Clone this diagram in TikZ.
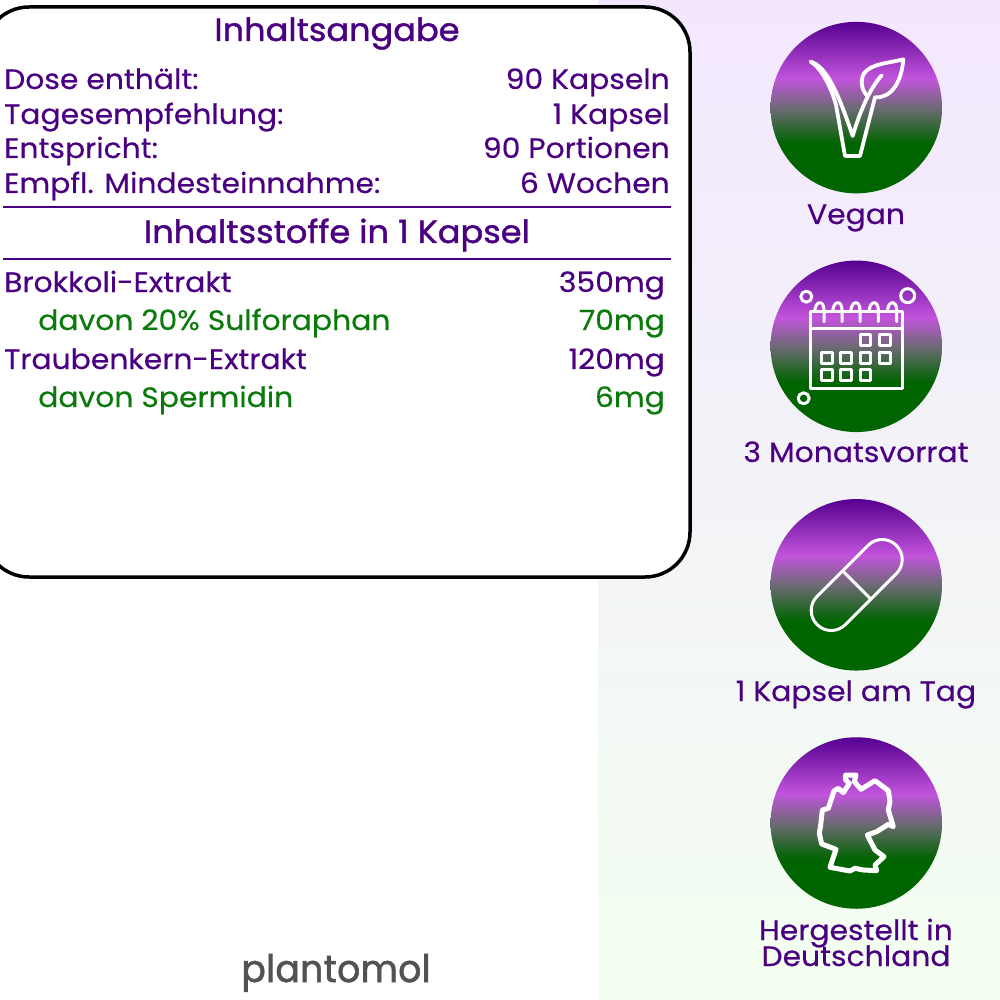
\documentclass[tikz,border=0pt]{standalone}
\usepackage{fontspec}
\setmainfont{Poppins}[FakeStretch=1.065,FakeBold=0.35]
\newfontfamily\headfont{Poppins}[FakeStretch=1.05,FakeBold=1.3]
\newfontfamily\logofont{Poppins}[LetterSpace=1,FakeStretch=0.95,FakeBold=1.6]
\usepackage{tikz}
\usetikzlibrary{positioning,calc}
\definecolor{indigotext}{HTML}{4B0082}
\definecolor{greentext}{HTML}{0A7A0A}
\definecolor{badgedark}{HTML}{560090}
\definecolor{badgemid}{HTML}{C254DC}
\definecolor{badgegreen}{HTML}{006400}
\definecolor{bgtop}{HTML}{F3E7FE}
\definecolor{bgbottom}{HTML}{F3FFF0}
\pgfdeclareverticalshading{badgefill}{100bp}{
  color(0bp)=(badgegreen); color(25bp)=(badgegreen); color(39.5bp)=(badgegreen);
  color(50bp)=(badgegreen!50!badgemid!60!gray); color(58.5bp)=(badgemid);
  color(75bp)=(badgedark); color(100bp)=(badgedark)}
\tikzset{
  rowtext/.style={inner sep=0pt,font=\fontsize{28}{30}\selectfont},
  rowleft/.style={rowtext,anchor=base west,indigotext},
  rowright/.style={rowtext,anchor=base east,indigotext},
  subleft/.style={rowtext,anchor=base west,greentext},
  subright/.style={rowtext,anchor=base east,greentext},
  headtext/.style={inner sep=0pt,anchor=base,indigotext,font=\fontsize{32}{34}\selectfont\headfont},
  captext/.style={inner sep=0pt,anchor=base,indigotext,font=\fontsize{28}{30}\selectfont},
  badge/.style={circle,minimum size=171.5pt,inner sep=0pt,shading=badgefill},
  icon/.style={draw=white,line width=3pt,line join=round,line cap=round}
}
\begin{document}
\begin{tikzpicture}[x=1pt,y=-1pt]
  \useasboundingbox (0,0) rectangle (1000,1000);
  \clip (0,0) rectangle (1000,1000);
  \fill[white] (0,0) rectangle (1000,1000);
  \shade[top color=bgtop,bottom color=bgbottom] (598,0) rectangle (1000,1000);

  \draw[line width=3.5pt,rounded corners=45pt,fill=white] (-16,7) rectangle (690,577);
  \draw[indigotext,line width=1.5pt] (3,207)--(671,207);
  \draw[indigotext,line width=1.5pt] (3,259)--(671,259);

  \node[headtext] (title) at (337,41) {Inhaltsangabe};
  \node[headtext] (subtitle) at (337,243) {Inhaltsstoffe in 1 Kapsel};

  \node[rowleft] (dose) at (4,89) {Dose enthält:};
  \node[rowright] (doseval) at (670,89) {90 Kapseln};
  \node[rowleft] (tag) at (4,124) {Tagesempfehlung:};
  \node[rowright] (tagval) at (670,124) {1 Kapsel};
  \node[rowleft] (ents) at (4,158) {Entspricht:};
  \node[rowright] (entsval) at (670,158) {90 Portionen};
  \node[rowleft] (empf) at (4,193) {Empfl. Mindesteinnahme:};
  \node[rowright] (empfval) at (670,193) {6 Wochen};

  \node[rowleft] (brok) at (4,292) {Brokkoli-Extrakt};
  \node[rowright] (brokval) at (665,292) {350mg};
  \node[subleft] (sulf) at (38,330) {davon 20\% Sulforaphan};
  \node[subright] (sulfval) at (665,330) {70mg};
  \node[rowleft] (traub) at (4,369) {Traubenkern-Extrakt};
  \node[rowright] (traubval) at (665,369) {120mg};
  \node[subleft] (sperm) at (38,407) {davon Spermidin};
  \node[subright] (spermval) at (665,407) {6mg};

  \node[badge] (vegan) at (856.3,107.6) {};
  \node[badge] (vorrat) at (856.3,346.3) {};
  \node[badge] (kapsel) at (856.3,584.8) {};
  \node[badge] (land) at (856.3,823) {};

  \node[captext] (vegantext) at (856,224) {Vegan};
  \node[captext] (vorrattext) at (856,462) {3 Monatsvorrat};
  \node[captext] (kapseltext) at (856,701) {1 Kapsel am Tag};
  \node[captext] (landtext) at (856,940) {Hergestellt in};
  \node[captext] (landtextb) at (856,966) {Deutschland};

  % leaf V
  \begin{scope}[shift={(760,10)},x=0.3333pt,y=-0.3333pt]
    \draw[icon,line width=3.8pt] (152,155) .. controls (185,175) and (215,235) .. (228,285) -- (255,438) -- (300,438)
      -- (345,262) .. controls (395,265) and (425,215) .. (430,148)
      .. controls (385,160) and (335,160) .. (312,190) .. controls (298,215) and (308,245) .. (322,258);
    \draw[icon,line width=3.8pt] (152,155) .. controls (200,170) and (235,250) .. (278,378)
      .. controls (295,320) and (325,240) .. (365,196);
  \end{scope}

  % calendar
  \begin{scope}[shift={(760,255)},x=0.3333pt,y=-0.3333pt]
    \draw[icon,line cap=butt] (150,170) rectangle (427,400);
    \draw[icon,line cap=butt] (150,222)--(427,222);
    \foreach \xa in {192,246,300,355,410}
      \draw[icon] ({\xa-28},170) .. controls ({\xa-26},135) and ({\xa},135) .. ({\xa},165) -- ({\xa},200);
    \foreach \xa/\ya in {316/256,374/256,200/310,258/310,316/310,374/310,200/360,258/360,316/360}
      \draw[icon,line cap=butt] ({\xa-16},{\ya-16}) rectangle ({\xa+16},{\ya+16});
    \draw[icon] (139,125) circle[radius=5.5pt];
    \draw[icon] (443,122) circle[radius=7pt];
    \draw[icon] (131,430) circle[radius=5.5pt];
  \end{scope}

  % capsule
  \begin{scope}[shift={(856.7,585)},rotate=45]
    \draw[icon,rounded corners=19.9pt] (-56,-20) rectangle (56,20);
    \draw[icon] (0,-20)--(0,20);
  \end{scope}

  % germany
  \begin{scope}[shift={(760,730)},x=0.3333pt,y=-0.3333pt]
    \draw[icon,line width=5pt] (257,135)--(288,135)--(283,155)--(303,178)--(345,152)--(385,182)--(390,215)
      --(385,240)--(400,290)--(385,283)--(350,305)--(322,315)--(345,360)--(372,380)--(345,405)--(350,422)
      --(310,420)--(285,415)--(270,423)--(210,412)--(228,358)--(185,342)--(178,310)--(182,285)--(187,240)
      --(205,235)--(222,183)--(235,175)--(250,188)--(268,160)--(257,150)--cycle;
  \end{scope}

  \node[inner sep=0pt,anchor=base,text=black!68,font=\fontsize{38}{40}\selectfont\logofont] (logo) at (336,982) {plantomol};
\end{tikzpicture}
\end{document}
